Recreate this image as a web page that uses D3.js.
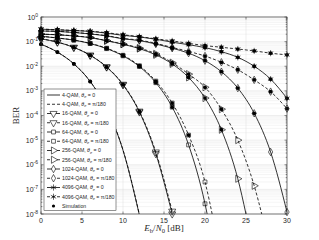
<!DOCTYPE html>
<html>
<head>
<meta charset="utf-8">
<script src="https://cdn.jsdelivr.net/npm/d3@7"></script>
<style>
  body { margin: 0; background: #fff; }
</style>
</head>
<body>
<div id="chart"></div>
<script>
// Eb/N0 points (dB) where markers sit.
const snrDb = [0, 2, 4, 6, 8, 10, 12, 14, 16, 18, 20, 22, 24, 26, 28, 30];

// BER, ideal phase (theta_e = 0) and theta_e = pi/180.
const ber4 = [0.0786, 0.0375, 0.0125, 0.00239, 1.91e-4, 3.87e-6, 9.0e-9];
const ber4Pe = [0.0790, 0.0377, 0.0126, 0.00242, 1.95e-4, 4.0e-6, 9.5e-9];
const ber16 = [0.13, 0.095, 0.058, 0.0278, 0.00925, 0.00176, 1.39e-4, 2.8e-6, 1.0e-8];
const ber16Pe = [0.131, 0.096, 0.059, 0.0282, 0.0095, 0.00185, 1.5e-4, 3.3e-6, 1.3e-8];
const ber64 = [0.165, 0.14, 0.115, 0.0835, 0.052, 0.0265, 0.0097, 0.00215, 2.18e-4, 6.4e-6, 2.6e-8, 5e-12];
const ber64Pe = [0.166, 0.141, 0.116, 0.085, 0.054, 0.028, 0.0105, 0.0025, 3.2e-4, 1.6e-5, 2.0e-7, 1e-10];
const ber256 = [0.20, 0.19, 0.17, 0.145, 0.108, 0.078, 0.052, 0.029, 0.0124, 0.0035, 5.1e-4, 2.64e-5, 2.7e-7, 2.2e-10];
const ber256Pe = [0.201, 0.191, 0.172, 0.147, 0.11, 0.08, 0.055, 0.032, 0.014, 0.0048, 1.4e-3, 1.8e-4, 1.0e-5, 1.4e-7, 3e-10];
const ber1024 = [0.27, 0.26, 0.235, 0.205, 0.17, 0.13, 0.11, 0.08, 0.054, 0.034, 0.0168, 0.006, 0.0013, 1.23e-4, 3.3e-6, 1.2e-8];
const ber1024Pe = [0.272, 0.262, 0.238, 0.208, 0.175, 0.135, 0.115, 0.085, 0.058, 0.040, 0.026, 0.0145, 0.0072, 0.0028, 9.3e-4, 1.9e-4];
const ber4096 = [0.32, 0.30, 0.28, 0.26, 0.22, 0.18, 0.155, 0.125, 0.095, 0.075, 0.057, 0.039, 0.023, 0.010, 0.003, 5.0e-4];
const ber4096Pe = [0.325, 0.305, 0.285, 0.265, 0.23, 0.19, 0.16, 0.13, 0.107, 0.085, 0.069, 0.059, 0.050, 0.042, 0.034, 0.029];

// Simulated points are only shown above this BER.
const simFloor = 1.2e-5;

const xTicks = [0, 5, 10, 15, 20, 25, 30];
const yTicks = [1e-8, 1e-7, 1e-6, 1e-5, 1e-4, 1e-3, 1e-2, 1e-1, 1];

const series = [
    { order: "4", phase: "0", values: ber4, dashed: false, marker: null },
    { order: "4", phase: "π/180", values: ber4Pe, dashed: true, marker: null },
    { order: "16", phase: "0", values: ber16, dashed: false, marker: "tdown" },
    { order: "16", phase: "π/180", values: ber16Pe, dashed: true, marker: "tdown" },
    { order: "64", phase: "0", values: ber64, dashed: false, marker: "square" },
    { order: "64", phase: "π/180", values: ber64Pe, dashed: true, marker: "square" },
    { order: "256", phase: "0", values: ber256, dashed: false, marker: "tright" },
    { order: "256", phase: "π/180", values: ber256Pe, dashed: true, marker: "tright" },
    { order: "1024", phase: "0", values: ber1024, dashed: false, marker: "diamond" },
    { order: "1024", phase: "π/180", values: ber1024Pe, dashed: true, marker: "diamond" },
    { order: "4096", phase: "0", values: ber4096, dashed: false, marker: "star" },
    { order: "4096", phase: "π/180", values: ber4096Pe, dashed: true, marker: "star" }
];

const width = 319;
const height = 240;
const margin = { top: 17, right: 32, bottom: 26, left: 41 };
const ink = "#262626";
const sans = "'Liberation Sans', Arial, sans-serif";
const serif = "'Liberation Serif', 'DejaVu Serif', serif";

const svg = d3.select("#chart")
    .append("svg")
    .attr("width", width)
    .attr("height", height)
    .style("font-family", sans);

const x = d3.scaleLinear().domain([0, 30]).range([margin.left, width - margin.right]);
const y = d3.scaleLog().domain([1e-8, 1]).range([height - margin.bottom, margin.top]);

const [x0, x1] = x.range();
const [y0, y1] = y.range();

svg.append("defs").append("clipPath").attr("id", "plot")
    .append("rect")
    .attr("x", x0).attr("y", y1)
    .attr("width", x1 - x0).attr("height", y0 - y1);

// Grid: minor decades first, then the major lines.
const minorY = [];
for (let k = -8; k < 0; k++) {
    for (let m = 2; m <= 9; m++) minorY.push(m * Math.pow(10, k));
}
svg.append("g").selectAll("line")
    .data(minorY)
    .enter().append("line")
    .attr("x1", x0).attr("x2", x1)
    .attr("y1", d => y(d)).attr("y2", d => y(d))
    .attr("stroke", "#ebebeb")
    .attr("stroke-width", 0.5);

svg.append("g").selectAll("line")
    .data(yTicks)
    .enter().append("line")
    .attr("x1", x0).attr("x2", x1)
    .attr("y1", d => y(d)).attr("y2", d => y(d))
    .attr("stroke", "#dcdcdc")
    .attr("stroke-width", 0.5);

svg.append("g").selectAll("line")
    .data(xTicks)
    .enter().append("line")
    .attr("x1", d => x(d)).attr("x2", d => x(d))
    .attr("y1", y0).attr("y2", y1)
    .attr("stroke", "#dcdcdc")
    .attr("stroke-width", 0.5);

// Curves.
const line = d3.line()
    .x(d => x(d[0]))
    .y(d => y(d[1]))
    .curve(d3.curveMonotoneX);

const curves = svg.append("g").attr("clip-path", "url(#plot)");
series.forEach(s => {
    const pts = s.values.map((v, i) => [snrDb[i], v]);
    curves.append("path")
        .attr("d", line(pts))
        .attr("fill", "none")
        .attr("stroke", "#000")
        .attr("stroke-width", 0.8)
        .attr("stroke-dasharray", s.dashed ? "3,2" : null);
});

// Marker shapes.
function markerPath(kind) {
    if (kind === "tdown") return { d: d3.symbol(d3.symbolTriangle, 22)(), rot: 180 };
    if (kind === "tright") return { d: d3.symbol(d3.symbolTriangle, 22)(), rot: 90 };
    if (kind === "square") return { d: d3.symbol(d3.symbolSquare, 15)(), rot: 0 };
    if (kind === "diamond") return { d: d3.symbol(d3.symbolDiamond, 16)(), rot: 0 };
    if (kind === "star") return { d: d3.symbol(d3.symbolAsterisk, 26)(), rot: 0 };
    return null;
}

const markers = svg.append("g");
series.forEach(s => {
    const m = markerPath(s.marker);
    if (!m) return;
    s.values.forEach((v, i) => {
        if (v < 0.95e-8) return;
        markers.append("path")
            .attr("d", m.d)
            .attr("transform", `translate(${x(snrDb[i])},${y(v)}) rotate(${m.rot})`)
            .attr("fill", "none")
            .attr("stroke", "#000")
            .attr("stroke-width", 0.6);
    });
});

// Simulation dots.
const sims = [];
series.forEach(s => s.values.forEach((v, i) => {
    if (v >= simFloor) sims.push([snrDb[i], v]);
}));
svg.append("g").selectAll("circle")
    .data(sims)
    .enter().append("circle")
    .attr("cx", d => x(d[0]))
    .attr("cy", d => y(d[1]))
    .attr("r", 1.9)
    .attr("fill", "#000");

// Axes box and inward ticks.
svg.append("rect")
    .attr("x", x0).attr("y", y1)
    .attr("width", x1 - x0).attr("height", y0 - y1)
    .attr("fill", "none")
    .attr("stroke", ink)
    .attr("stroke-width", 0.6);

const ticks = svg.append("g").attr("stroke", ink).attr("stroke-width", 0.5);
xTicks.forEach(t => {
    ticks.append("line").attr("x1", x(t)).attr("x2", x(t)).attr("y1", y0).attr("y2", y0 - 2.5);
    ticks.append("line").attr("x1", x(t)).attr("x2", x(t)).attr("y1", y1).attr("y2", y1 + 2.5);
});
yTicks.forEach(t => {
    ticks.append("line").attr("x1", x0).attr("x2", x0 + 2.5).attr("y1", y(t)).attr("y2", y(t));
    ticks.append("line").attr("x1", x1).attr("x2", x1 - 2.5).attr("y1", y(t)).attr("y2", y(t));
});
minorY.forEach(t => {
    ticks.append("line").attr("x1", x0).attr("x2", x0 + 1.3).attr("y1", y(t)).attr("y2", y(t));
    ticks.append("line").attr("x1", x1).attr("x2", x1 - 1.3).attr("y1", y(t)).attr("y2", y(t));
});

// Tick labels.
svg.append("g").selectAll("text")
    .data(xTicks)
    .enter().append("text")
    .attr("x", d => x(d))
    .attr("y", y0 + 9)
    .attr("text-anchor", "middle")
    .attr("font-size", 7)
    .attr("fill", ink)
    .text(d => d);

const yLabels = svg.append("g").selectAll("text")
    .data(yTicks)
    .enter().append("text")
    .attr("x", x0 - 3)
    .attr("y", d => y(d) + 2.5)
    .attr("text-anchor", "end")
    .attr("font-size", 7)
    .attr("fill", ink);
yLabels.append("tspan").text("10");
yLabels.append("tspan")
    .attr("dy", -3)
    .attr("font-size", 5)
    .text(d => Math.round(Math.log10(d)));

// Axis titles (serif, like the LaTeX labels).
const xt = svg.append("text")
    .attr("x", (x0 + x1) / 2)
    .attr("y", height - 9)
    .attr("text-anchor", "middle")
    .style("font-family", serif)
    .attr("font-size", 9)
    .attr("fill", ink);
xt.append("tspan").attr("font-style", "italic").text("E");
xt.append("tspan").attr("font-size", 6.5).attr("dy", 2).text("b");
xt.append("tspan").attr("dy", -2).text("/");
xt.append("tspan").attr("font-style", "italic").text("N");
xt.append("tspan").attr("font-size", 6.5).attr("dy", 2).text("0");
xt.append("tspan").attr("dy", -2).text(" [dB]");

svg.append("text")
    .attr("transform", `translate(19,${(y0 + y1) / 2}) rotate(-90)`)
    .attr("text-anchor", "middle")
    .style("font-family", serif)
    .attr("font-size", 9)
    .attr("fill", ink)
    .text("BER");

// Legend.
const legend = svg.append("g");
const lx = 44, ly = 89, lw = 72, rowH = 9.25;
legend.append("rect")
    .attr("x", lx).attr("y", ly)
    .attr("width", lw).attr("height", rowH * 13 + 1)
    .attr("fill", "#fff")
    .attr("stroke", ink)
    .attr("stroke-width", 0.5);

series.forEach((s, i) => {
    const cy = ly + 6 + i * rowH;
    legend.append("line")
        .attr("x1", lx + 3).attr("x2", lx + 16)
        .attr("y1", cy).attr("y2", cy)
        .attr("stroke", "#000")
        .attr("stroke-width", 0.8)
        .attr("stroke-dasharray", s.dashed ? "3,2" : null);
    const m = markerPath(s.marker);
    if (m) {
        legend.append("path")
            .attr("d", m.d)
            .attr("transform", `translate(${lx + 9.5},${cy}) rotate(${m.rot})`)
            .attr("fill", s.marker === "star" ? "#000" : "#fff")
            .attr("stroke", "#000")
            .attr("stroke-width", 0.6);
    }
    const t = legend.append("text")
        .attr("x", lx + 18)
        .attr("y", cy + 1.8)
        .attr("font-size", 5.2)
        .attr("fill", ink);
    t.append("tspan").text(`${s.order}-QAM, `);
    t.append("tspan").attr("font-style", "italic").text("θ");
    t.append("tspan").attr("font-size", 3.8).attr("dy", 1.2).attr("font-style", "italic").text("e");
    t.append("tspan").attr("dy", -1.2).text(` = ${s.phase}`);
});

const simY = ly + 6 + 12 * rowH;
legend.append("circle")
    .attr("cx", lx + 9.5).attr("cy", simY)
    .attr("r", 1.6).attr("fill", "#000");
legend.append("text")
    .attr("x", lx + 18)
    .attr("y", simY + 1.8)
    .attr("font-size", 5.2)
    .attr("fill", ink)
    .text("Simulation");
</script>
</body>
</html>
